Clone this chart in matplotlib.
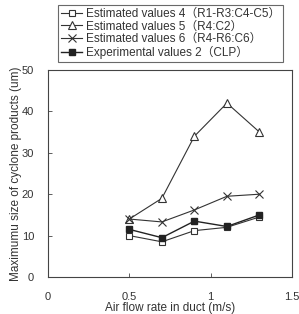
import numpy as np
import matplotlib.pyplot as plt

plt.rcParams['font.family'] = ['Liberation Sans', 'Noto Sans CJK JP', 'DejaVu Sans']

# air flow rate (m/s)
flow = [0.5, 0.7, 0.9, 1.1, 1.3]

# maximum size of cyclone products (um)
est4 = [10.0, 8.5, 11.2, 12.0, 14.5]
est5 = [14.0, 19.0, 34.0, 42.0, 35.0]
est6 = [14.0, 13.3, 16.2, 19.5, 20.0]
exp2 = [11.5, 9.5, 13.5, 12.2, 15.0]

labels = ['Estimated values 4\uff08R1-R3:C4-C5\uff09',
          'Estimated values 5\uff08R4:C2\uff09',
          'Estimated values 6\uff08R4-R6:C6\uff09',
          'Experimental values 2\uff08CLP\uff09']

fig = plt.figure(figsize=(2.99, 3.14), dpi=100)
ax = fig.add_axes([48 / 299, 37 / 314, 244 / 299, 207 / 314])

lc = '#333333'
ax.plot(flow, est4, '-s', color=lc, lw=0.8, ms=5, mfc='white', mec=lc, mew=0.8, label=labels[0])
ax.plot(flow, est5, '-^', color=lc, lw=0.8, ms=6, mfc='white', mec=lc, mew=0.8, label=labels[1])
ax.plot(flow, est6, '-x', color=lc, lw=0.8, ms=6, mec=lc, mew=0.8, label=labels[2])
ax.plot(flow, exp2, '-s', color='#222222', lw=1.0, ms=5, mfc='#222222', mec='#222222', label=labels[3])

ax.set_xlim(0, 1.5)
ax.set_ylim(0, 50)
ax.set_xticks([0, 0.5, 1, 1.5])
ax.set_xticklabels(['0', '0.5', '1', '1.5'])
ax.set_yticks([0, 10, 20, 30, 40, 50])
ax.tick_params(direction='in', labelsize=8, length=3, width=0.6, colors='#444444', labelcolor='#333333')
ax.tick_params(axis='x', pad=11)
ax.tick_params(axis='y', pad=10)
for s in ax.spines.values():
    s.set_linewidth(0.8)
    s.set_color('#444444')

ax.set_xlabel('Air flow rate in duct (m/s)', fontsize=8.5, color='#333333', labelpad=0)
ax.set_ylabel('Maximumu size of cyclone products (um)', fontsize=8.5, color='#333333', labelpad=0)

leg = fig.legend(loc='upper left', bbox_to_anchor=(58 / 299, 1 - 5 / 314), fontsize=8.5,
                 frameon=True, fancybox=False, edgecolor='#444444', handlelength=1.8,
                 handletextpad=0.3, borderpad=0.25, labelspacing=0.05, borderaxespad=0)
leg.get_frame().set_linewidth(0.8)
for t in leg.get_texts():
    t.set_color('#333333')

fig.savefig('out.png', dpi=100)
